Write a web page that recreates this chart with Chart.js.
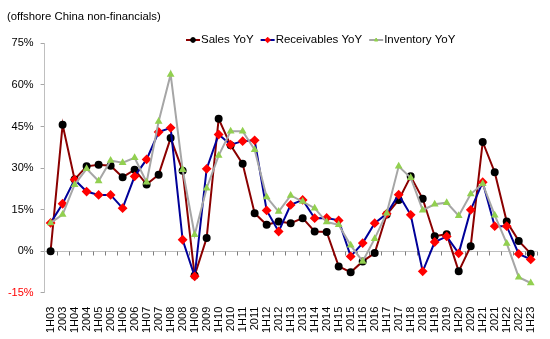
<!DOCTYPE html>
<html>
<head>
<meta charset="utf-8">
<script src="https://cdn.jsdelivr.net/npm/chart.js@4.4.0/dist/chart.umd.min.js"></script>
<style>
  html, body { margin: 0; padding: 0; background: #fff; }
  #wrap { width: 550px; height: 339px; }
</style>
</head>
<body>
<div id="wrap"><canvas id="chart" width="550" height="339"></canvas></div>
<script>
// --- data (YoY %, half-year / full-year) ---
const periodLabels = [
    '1H03', '2003', '1H04', '2004', '1H05', '2005', '1H06', '2006', '1H07', '2007',
    '1H08', '2008', '1H09', '2009', '1H10', '2010', '1H11', '2011', '1H12', '2012',
    '1H13', '2013', '1H14', '2014', '1H15', '2015', '1H16', '2016', '1H17', '2017',
    '1H18', '2018', '1H19', '2019', '1H20', '2020', '1H21', '2021', '1H22', '2022',
    '1H23'
];
const salesYoY = [
    0, 45.6, 25.9, 30.6, 31.2, 30.8, 26.7, 29.4, 24.1, 27.6,
    40.8, 29.0, -8.8, 4.7, 47.8, 38.2, 31.5, 13.7, 9.5, 10.7,
    10.1, 11.9, 7.1, 6.9, -5.5, -7.6, -3.7, -0.7, 13.2, 18.5,
    27.0, 18.9, 5.4, 6.1, -7.3, 1.8, 39.4, 28.5, 10.7, 3.7,
    -0.9
];
const receivablesYoY = [
    10.2, 17.1, 25.8, 21.5, 20.3, 20.3, 15.5, 27.0, 33.1, 43.0,
    44.5, 4.1, -9.1, 29.7, 42.1, 38.4, 39.7, 40.0, 14.7, 7.1,
    16.7, 18.5, 11.9, 12.0, 11.1, -1.9, 2.9, 10.1, 13.5, 20.4,
    13.1, -7.3, 3.3, 5.3, -0.8, 14.9, 24.9, 9.0, 9.0, -1.0,
    -3.0
];
const inventoryYoY = [
    10.2, 13.2, 24.0, 29.7, 25.3, 32.7, 31.9, 33.7, 24.9, 46.8,
    63.8, 29.4, 5.9, 22.7, 34.5, 43.3, 43.3, 36.6, 19.5, 14.3,
    20.1, 17.9, 15.5, 10.5, 9.5, 2.1, -3.7, 4.5, 13.7, 30.6,
    26.5, 14.8, 16.9, 17.5, 12.8, 20.6, 24.3, 13.0, 2.8, -9.4,
    -11.5
];
const yMin = -15;
const yMax = 75;
const yStep = 15;

const FONT = 'Arial, "Liberation Sans", sans-serif';
Chart.defaults.font.family = FONT;
Chart.defaults.font.size = 11;
Chart.defaults.color = '#000';

// axe horizontal à 0 avec petites graduations entre catégories
const zeroAxis = {
    id: 'zeroAxis',
    beforeDatasetsDraw(chart) {
        const { ctx, chartArea, scales } = chart;
        const y0 = Math.round(scales.y.getPixelForValue(0)) + 0.5;
        const x0 = scales.x.getPixelForValue(0);
        const step = scales.x.getPixelForValue(1) - x0;
        ctx.save();
        ctx.lineWidth = 1;
        ctx.strokeStyle = '#BFBFBF';
        ctx.beginPath();
        ctx.moveTo(chartArea.left, y0);
        ctx.lineTo(chartArea.right, y0);
        ctx.stroke();
        ctx.strokeStyle = '#7F7F7F';
        ctx.beginPath();
        for (let i = 1; i <= periodLabels.length; i++) {
            const x = Math.round(x0 + (i - 0.5) * step) + 0.5;
            ctx.moveTo(x, y0);
            ctx.lineTo(x, y0 + 4);
        }
        ctx.stroke();
        ctx.restore();
    }
};

// légende en ligne, dans la zone du graphique
const legendRow = {
    id: 'legendRow',
    afterDraw(chart) {
        const { ctx } = chart;
        const y = 40;
        let x = 186;
        ctx.save();
        ctx.font = '11.5px ' + FONT;
        ctx.textBaseline = 'middle';
        chart.data.datasets.forEach(ds => {
            ctx.strokeStyle = ds.borderColor;
            ctx.lineWidth = 2;
            ctx.beginPath();
            ctx.moveTo(x, y);
            ctx.lineTo(x + 14, y);
            ctx.stroke();
            ctx.fillStyle = ds.pointBackgroundColor;
            ctx.strokeStyle = ds.pointBorderColor;
            ctx.lineWidth = 1;
            Chart.helpers.drawPoint(ctx, { pointStyle: ds.pointStyle, radius: ds.pointRadius * 0.8, borderWidth: 1, rotation: 0 }, x + 7, y);
            ctx.fillStyle = '#000';
            ctx.fillText(ds.label, x + 15, y);
            x += 15 + ctx.measureText(ds.label).width + 7;
        });
        ctx.restore();
    }
};

new Chart(document.getElementById('chart'), {
    type: 'line',
    data: {
        labels: periodLabels,
        datasets: [
            {
                label: 'Sales YoY',
                data: salesYoY,
                borderColor: '#8B0000',
                borderWidth: 2,
                pointStyle: 'circle',
                pointRadius: 3,
                pointBackgroundColor: '#000',
                pointBorderColor: '#000',
                order: 2
            },
            {
                label: 'Receivables YoY',
                data: receivablesYoY,
                borderColor: '#000099',
                borderWidth: 2,
                pointStyle: 'rectRot',
                pointRadius: 3.5,
                pointBackgroundColor: '#FF0000',
                pointBorderColor: '#FF0000',
                order: 1
            },
            {
                label: 'Inventory YoY',
                data: inventoryYoY,
                borderColor: '#A6A6A6',
                borderWidth: 2,
                pointStyle: 'triangle',
                pointRadius: 2.5,
                pointBackgroundColor: '#92D050',
                pointBorderColor: '#92D050',
                order: 0
            }
        ]
    },
    options: {
        responsive: false,
        animation: false,
        devicePixelRatio: 1,
        layout: { padding: { left: 7, right: 5, top: 0, bottom: 0 } },
        plugins: {
            legend: { display: false },
            tooltip: { enabled: false },
            title: {
                display: true,
                text: '(offshore China non-financials)',
                align: 'start',
                color: '#000',
                font: { size: 11.3, weight: 'normal' },
                padding: { top: 10, bottom: 19.8 }
            }
        },
        scales: {
            x: {
                type: 'category',
                offset: true,
                grid: { display: false },
                border: { display: false },
                ticks: {
                    autoSkip: false,
                    minRotation: 90,
                    maxRotation: 90,
                    padding: 6,
                    color: '#000',
                    font: { size: 11 }
                },
                afterFit(scale) { scale.height = 46.3; }
            },
            y: {
                min: yMin,
                max: yMax,
                ticks: {
                    stepSize: yStep,
                    padding: 7,
                    color: ctx => (ctx.tick.value === yMin ? '#FF0000' : '#000'),
                    callback: v => v + '%',
                    font: { size: 11 }
                },
                grid: {
                    drawOnChartArea: false,
                    drawTicks: true,
                    tickLength: 4,
                    tickColor: '#A6A6A6'
                },
                border: { color: '#BFBFBF', width: 1 },
                afterFit(scale) { scale.width = 37.6; }
            }
        }
    },
    plugins: [zeroAxis, legendRow]
});
</script>
</body>
</html>
